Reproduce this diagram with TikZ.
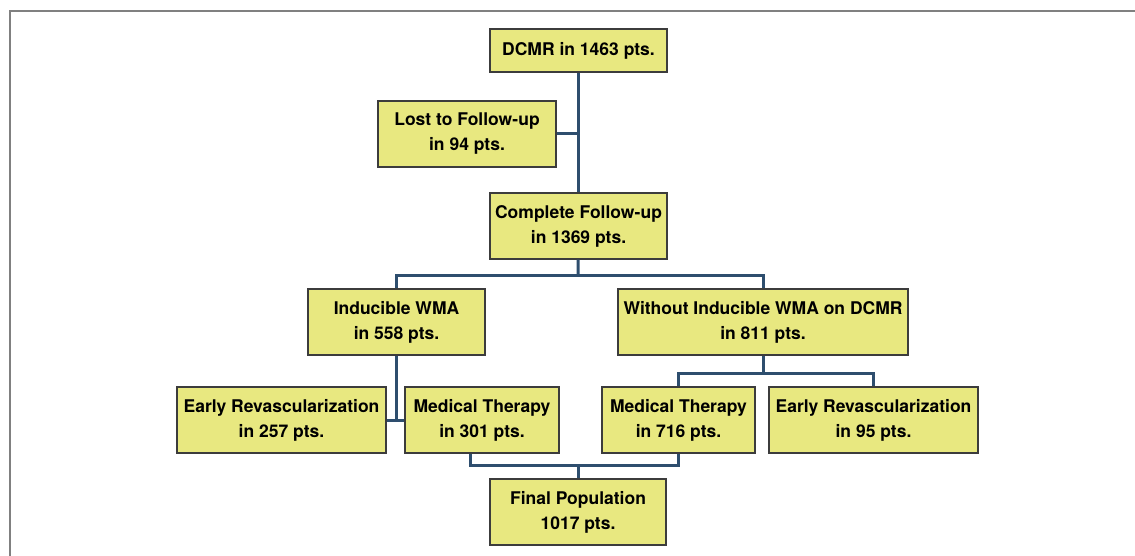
\documentclass[tikz,border=0pt]{standalone}
\usepackage{fontspec}
\setmainfont{TeX Gyre Heros}
\usetikzlibrary{positioning}

\definecolor{boxfill}{RGB}{232,232,128}
\definecolor{boxline}{RGB}{60,60,60}
\definecolor{linkblue}{RGB}{46,78,110}

\tikzset{
    stage/.style={draw=boxline, fill=boxfill, line width=1.2pt, align=center,
        minimum height=66pt, inner sep=0pt,
        font=\fontsize{17.5}{25}\selectfont\bfseries},
    link/.style={draw=linkblue, line width=3pt}
}

\begin{document}
\begin{tikzpicture}[x=1pt, y=-1pt]
    % Fix the canvas and draw the frame
    \useasboundingbox (0,0) rectangle (1135,556);
    \draw[gray, line width=1.2pt] (10,556) -- (10,11) -- (1135,11);

    % Boxes of the flow chart
    \node[stage, minimum width=177pt, minimum height=43pt] (dcmr) at (578.5,50.5) {DCMR in 1463 pts.};
    \node[stage, minimum width=178pt] (lost) at (467,134) {Lost to Follow-up\\in 94 pts.};
    \node[stage, minimum width=177pt] (complete) at (578.5,226) {Complete Follow-up\\in 1369 pts.};
    \node[stage, minimum width=177pt] (induc) at (396.5,322) {Inducible WMA\\in 558 pts.};
    \node[stage, minimum width=290pt] (noinduc) at (763,322) {Without Inducible WMA on DCMR\\in 811 pts.};
    \node[stage, minimum width=209pt] (earlyA) at (281.5,420) {Early Revascularization\\in 257 pts.};
    \node[stage, minimum width=154pt] (medA) at (482,420) {Medical Therapy\\in 301 pts.};
    \node[stage, minimum width=153pt] (medB) at (678.5,420) {Medical Therapy\\in 716 pts.};
    \node[stage, minimum width=209pt] (earlyB) at (873.5,420) {Early Revascularization\\in 95 pts.};
    \node[stage, minimum width=176pt] (final) at (578,512) {Final Population\\1017 pts.};

    % Branch points
    \coordinate (splitA) at (578,275);
    \coordinate (splitB) at (763,373);
    \coordinate (splitC) at (578,465);

    % Connectors
    \draw[link] (dcmr) -- (complete);
    \draw[link] (lost.east) -- (lost.east -| dcmr.south);
    \draw[link] (complete) -- (splitA);
    \draw[link] (induc.north) |- (splitA) -| (noinduc.north);
    \draw[link] (induc.south) -- (induc.south |- earlyA.east);
    \draw[link] (earlyA.east) -- (medA.west);
    \draw[link] (noinduc) -- (splitB);
    \draw[link] (medB.north) |- (splitB) -| (earlyB.north);
    \draw[link] ([xshift=-12pt]medA.south) |- (splitC) -| (medB.south);
    \draw[link] (splitC) -- (final.north);

\end{tikzpicture}
\end{document}
